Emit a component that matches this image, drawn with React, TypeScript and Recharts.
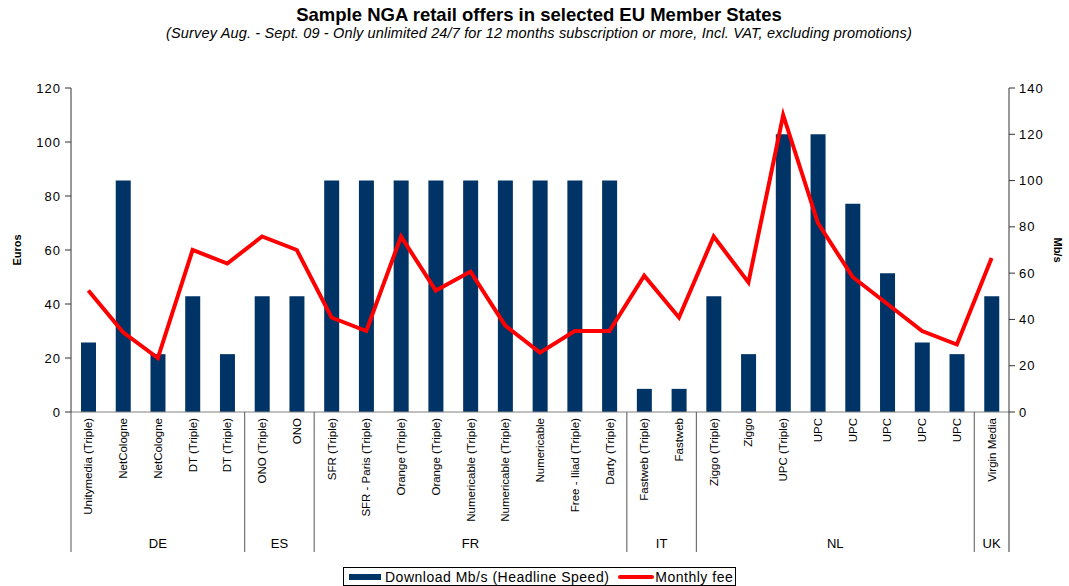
import React from "react";
import { ComposedChart, Bar, Line, XAxis, YAxis } from "recharts";

const categories = [
  "Unitymedia (Triple)", "NetCologne", "NetCologne", "DT (Triple)", "DT (Triple)",
  "ONO (Triple)", "ONO",
  "SFR (Triple)", "SFR - Paris (Triple)", "Orange (Triple)", "Orange (Triple)",
  "Numericable (Triple)", "Numericable (Triple)", "Numericable", "Free - Iliad (Triple)", "Darty (Triple)",
  "Fastweb (Triple)", "Fastweb",
  "Ziggo (Triple)", "Ziggo", "UPC (Triple)", "UPC", "UPC", "UPC", "UPC", "UPC",
  "Virgin Media",
];

// download speed in Mb/s (right axis)
const downloadMbps = [
  30, 100, 25, 50, 25,
  50, 50,
  100, 100, 100, 100, 100, 100, 100, 100, 100,
  10, 10,
  50, 25, 120, 120, 90, 60, 30, 25,
  50,
];

// monthly fee in euros (left axis)
const monthlyFee = [
  45, 29.5, 20, 60, 55,
  65, 60,
  35, 30, 65, 45, 52, 32, 22, 30, 30,
  50.5, 35,
  65, 48, 110, 70, 50, 40, 30, 25,
  57,
];

const groupNames = ["DE", "ES", "FR", "IT", "NL", "UK"];
const groupSizes = [5, 2, 9, 2, 8, 1];

const euroTicks = [0, 20, 40, 60, 80, 100, 120];
const mbpsTicks = [0, 20, 40, 60, 80, 100, 120, 140];

const data = categories.map((name, i) => ({
  name,
  mbps: downloadMbps[i],
  fee: monthlyFee[i],
}));

const W = 1069;
const H = 586;
const LEFT_W = 71;
const RIGHT_W = 60;
const BAND = (W - LEFT_W - RIGHT_W) / categories.length;
const FONT = "Arial, 'Liberation Sans', sans-serif";

// start index of each group
const groupStarts: number[] = [];
groupSizes.reduce((acc, n) => {
  groupStarts.push(acc);
  return acc + n;
}, 0);

function CategoryTick(props: any) {
  const { x, y, payload } = props;
  const i = payload.index;
  const axisY = y - 6;
  const g = groupStarts.indexOf(i);
  const half = (payload.offset && payload.offset > 0 ? payload.offset : BAND / 2);
  return (
    <g>
      <text
        transform={`translate(${x},${y}) rotate(-90)`}
        textAnchor="end"
        dy="0.35em"
        fontSize={11.5}
        fontFamily={FONT}
        fill="#000"
      >
        {payload.value}
      </text>
      {g >= 0 && (
        <>
          <line x1={x - half} x2={x - half} y1={axisY} y2={axisY + 140} stroke="#555" />
          <text
            x={x - half + groupSizes[g] * half}
            y={axisY + 136}
            textAnchor="middle"
            fontSize={13}
            fontFamily={FONT}
            fill="#000"
          >
            {groupNames[g]}
          </text>
        </>
      )}
      {i === categories.length - 1 && (
        <line x1={x + half} x2={x + half} y1={axisY} y2={axisY + 140} stroke="#333" />
      )}
    </g>
  );
}

function AxisTitle(props: any) {
  const { viewBox, value, side } = props;
  const cx = side === "left" ? viewBox.x + 17 : viewBox.x + viewBox.width - 11;
  const cy = viewBox.y + viewBox.height / 2;
  return (
    <text
      transform={`translate(${cx},${cy}) rotate(${side === "left" ? -90 : 90})`}
      textAnchor="middle"
      dy="0.35em"
      fontSize={11}
      fontWeight="bold"
      fontFamily={FONT}
      fill="#000"
    >
      {value}
    </text>
  );
}

export default function App() {
  return (
    <div style={{ position: "absolute", left: 0, top: 0, width: W, height: H, background: "#fff", fontFamily: FONT }}>
      <div style={{ position: "absolute", left: 0, width: 1078, top: 4, textAlign: "center", fontSize: 18.5, fontWeight: "bold" }}>
        Sample NGA retail offers in selected EU Member States
      </div>
      <div style={{ position: "absolute", left: 0, width: 1078, top: 25, textAlign: "center", fontSize: 14.5, fontStyle: "italic", letterSpacing: 0.15 }}>
        (Survey Aug. - Sept. 09 - Only unlimited 24/7 for 12 months subscription or more, Incl. VAT, excluding promotions)
      </div>

      <ComposedChart width={W} height={H} data={data} margin={{ top: 88, right: 0, bottom: 0, left: 0 }}>
        <XAxis
          dataKey="name"
          interval={0}
          height={174}
          tickLine={false}
          tickSize={6}
          tickMargin={0}
          axisLine={{ stroke: "#808080" }}
          tick={<CategoryTick />}
        />
        <YAxis
          yAxisId="left"
          orientation="left"
          width={LEFT_W}
          domain={[0, 120]}
          ticks={euroTicks}
          interval={0}
          tickSize={6}
          tickMargin={4}
          axisLine={{ stroke: "#333" }}
          tickLine={{ stroke: "#333" }}
          tick={{ fill: "#000", fontSize: 13, fontFamily: FONT, letterSpacing: 1 }}
          label={{ value: "Euros", content: (p: any) => <AxisTitle {...p} value="Euros" side="left" /> }}
        />
        <YAxis
          yAxisId="right"
          orientation="right"
          width={RIGHT_W}
          domain={[0, 140]}
          ticks={mbpsTicks}
          interval={0}
          tickSize={6}
          tickMargin={4}
          axisLine={{ stroke: "#333" }}
          tickLine={{ stroke: "#333" }}
          tick={{ fill: "#000", fontSize: 13, fontFamily: FONT, letterSpacing: 1 }}
          label={{ value: "Mb/s", content: (p: any) => <AxisTitle {...p} value="Mb/s" side="right" /> }}
        />
        <Bar yAxisId="right" dataKey="mbps" name="Download Mb/s (Headline Speed)" fill="#003366" barSize={15} isAnimationActive={false} />
        <Line
          yAxisId="left"
          type="linear"
          dataKey="fee"
          name="Monthly fee"
          stroke="#ff0000"
          strokeWidth={4}
          dot={false}
          isAnimationActive={false}
        />
      </ComposedChart>

      <div
        style={{
          position: "absolute",
          left: 343,
          top: 567,
          width: 391,
          height: 17,
          border: "1px solid #000",
          display: "flex",
          alignItems: "center",
          fontSize: 14,
          letterSpacing: 0.5,
          whiteSpace: "nowrap",
        }}
      >
        <span style={{ display: "inline-block", width: 32, height: 6, background: "#003366", marginLeft: 5, marginRight: 4 }} />
        <span>Download Mb/s (Headline Speed)</span>
        <span style={{ display: "inline-block", width: 36, height: 4, background: "#ff0000", marginLeft: 9, marginRight: 1, borderRadius: 2 }} />
        <span>Monthly fee</span>
      </div>
    </div>
  );
}
